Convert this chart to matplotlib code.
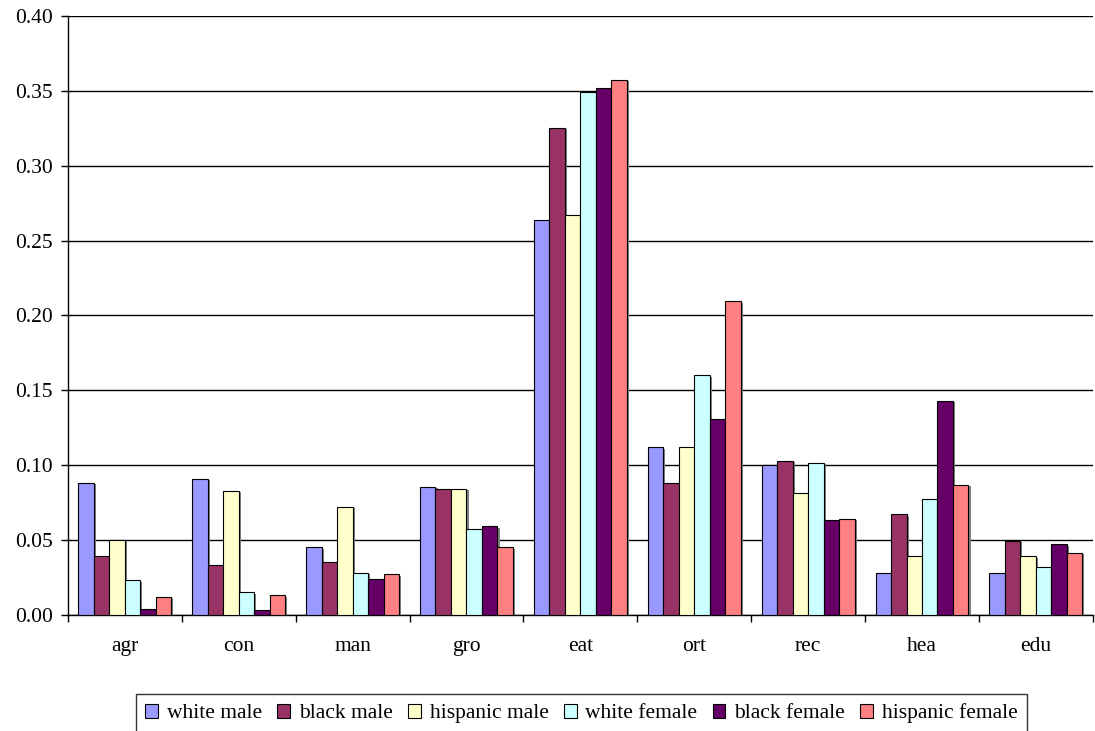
import matplotlib
matplotlib.use("Agg")
import matplotlib.pyplot as plt
import matplotlib.patheffects as pe
import numpy as np

categories = ["agr", "con", "man", "gro", "eat", "ort", "rec", "hea", "edu"]
groups = ["white male", "black male", "hispanic male",
          "white female", "black female", "hispanic female"]

white_male = [0.088, 0.091, 0.045, 0.0855, 0.264, 0.112, 0.100, 0.028, 0.028]
black_male = [0.039, 0.033, 0.035, 0.084, 0.3255, 0.088, 0.103, 0.067, 0.0495]
hispanic_male = [0.050, 0.083, 0.072, 0.084, 0.267, 0.112, 0.0815, 0.039, 0.039]
white_female = [0.023, 0.015, 0.028, 0.0575, 0.349, 0.160, 0.1015, 0.0775, 0.032]
black_female = [0.004, 0.003, 0.024, 0.059, 0.352, 0.131, 0.063, 0.143, 0.047]
hispanic_female = [0.012, 0.013, 0.027, 0.045, 0.3575, 0.2095, 0.064, 0.087, 0.0415]

series = [white_male, black_male, hispanic_male,
          white_female, black_female, hispanic_female]
colors = ["#9999FF", "#993366", "#FFFFCC", "#CCFFFF", "#660066", "#FF8080"]

plt.rcParams["font.family"] = ["Liberation Serif", "DejaVu Serif"]
FS = 15.5

fig = plt.figure(figsize=(10.95, 7.31), dpi=100)
ax = fig.add_axes([0.062, 0.159, 0.936, 0.819])

x = np.arange(len(categories))
width = 0.136
shadow = [pe.SimplePatchShadow(offset=(1.5, -1), shadow_rgbFace="#808080", alpha=1.0), pe.Normal()]

for i, (vals, col, name) in enumerate(zip(series, colors, groups)):
    offs = (i - 2.5) * width
    bars = ax.bar(x + offs, vals, width, color=col, edgecolor="black",
                  linewidth=0.8, label=name, zorder=3)
    for b in bars:
        b.set_path_effects(shadow)

ax.set_xlim(-0.5, len(categories) - 0.5)
ax.set_ylim(0, 0.40)
ticks = np.arange(0, 0.401, 0.05)
ax.set_yticks(ticks)
ax.set_yticklabels([f"{v:.2f}" for v in ticks], fontsize=FS)
ax.yaxis.grid(True, color="black", linewidth=1.0, zorder=0)
ax.set_axisbelow(True)

# category labels centered, tick marks on the group boundaries
ax.set_xticks(x)
ax.set_xticklabels(categories, fontsize=FS)
ax.tick_params(axis="x", length=0, pad=16)
ax.set_xticks(np.arange(-0.5, len(categories)), minor=True)
ax.tick_params(axis="x", which="minor", length=5, width=1, direction="out")
ax.tick_params(axis="y", length=5, width=1, direction="out", pad=6)

for side in ["top", "right"]:
    ax.spines[side].set_visible(False)
ax.spines["left"].set_linewidth(1.0)
ax.spines["bottom"].set_linewidth(1.0)

leg = ax.legend(loc="upper center", bbox_to_anchor=(0.501, -0.114), ncol=6,
                frameon=True, fancybox=False, edgecolor="black", fontsize=FS,
                handlelength=0.6, handleheight=0.6, handletextpad=0.4,
                columnspacing=0.71, borderpad=0.45)
leg.get_frame().set_linewidth(1.0)
for h in leg.legend_handles:
    h.set_path_effects([])

fig.savefig("out.png", dpi=100)
